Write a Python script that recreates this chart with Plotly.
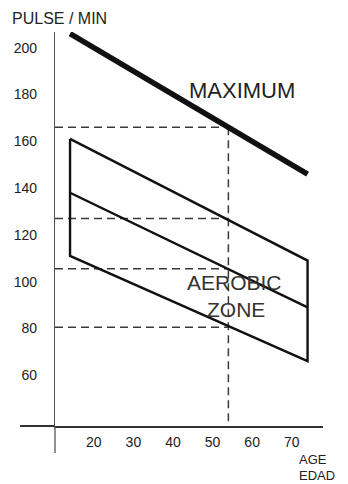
import plotly.graph_objects as go

# ---- data ----
ages = [14, 74]                 # ends of the plotted age span
max_pulse = [206, 146]          # MAXIMUM line
zone_upper = [161, 109]         # aerobic zone upper bound
zone_mid = [138, 89]            # middle line
zone_lower = [111, 66]          # aerobic zone lower bound
example_age = 54
example_pulses = [166, 127, 105.5, 80.5]
y_ticks = [60, 80, 100, 120, 140, 160, 180, 200]
x_ticks = [20, 30, 40, 50, 60, 70]

X_RANGE = [10.2, 77.9]
Y_RANGE = [38.3, 206.7]

FONT = "Liberation Sans, Arial, sans-serif"
INK = "#111111"
DASH_COL = "#3a3a3a"

fig = go.Figure()

# dashed guide lines
for p in example_pulses:
    fig.add_trace(go.Scatter(x=[X_RANGE[0], example_age], y=[p, p], mode="lines",
                             line=dict(color=DASH_COL, width=1.5, dash="8px,5px"),
                             hoverinfo="skip", showlegend=False))
fig.add_trace(go.Scatter(x=[example_age, example_age], y=[example_pulses[0], Y_RANGE[0]],
                         mode="lines", line=dict(color=DASH_COL, width=1.5, dash="8px,5px"),
                         hoverinfo="skip", showlegend=False))

# aerobic zone outline
fig.add_trace(go.Scatter(
    x=[ages[0], ages[1], ages[1], ages[0], ages[0]],
    y=[zone_upper[0], zone_upper[1], zone_lower[1], zone_lower[0], zone_upper[0]],
    mode="lines", line=dict(color=INK, width=2.4), showlegend=False, hoverinfo="skip"))
fig.add_trace(go.Scatter(x=ages, y=zone_mid, mode="lines",
                         line=dict(color=INK, width=2.4), showlegend=False, hoverinfo="skip"))
# maximum line
fig.add_trace(go.Scatter(x=ages, y=max_pulse, mode="lines",
                         line=dict(color=INK, width=5.5), showlegend=False, hoverinfo="skip"))

fig.update_layout(
    width=348, height=484,
    margin=dict(l=55, r=25, t=32, b=58),
    paper_bgcolor="white", plot_bgcolor="white",
    font=dict(family=FONT, color="#222222"),
    xaxis=dict(range=X_RANGE, tickvals=x_ticks, ticktext=[str(v) for v in x_ticks],
               showgrid=False, zeroline=False, showline=True, linecolor="#333333",
               linewidth=1.8, ticks="", ticklabelstandoff=2,
               tickfont=dict(size=14, family=FONT, color="#222222")),
    yaxis=dict(range=Y_RANGE, tickvals=y_ticks, ticktext=[str(v) for v in y_ticks],
               showgrid=False, zeroline=False, showline=True, linecolor="#555555",
               linewidth=1.3, ticks="", ticklabelstandoff=14,
               tickfont=dict(size=14, family=FONT, color="#222222")),
    shapes=[
        dict(type="line", xref="paper", yref="paper", x0=-35/268, x1=0, y0=0, y1=0,
             line=dict(color="#333333", width=1.8)),
        dict(type="line", xref="paper", yref="paper", x0=0, x1=0, y0=-27/394, y1=0,
             line=dict(color="#555555", width=1.3)),
    ],
    annotations=[
        dict(text="MAXIMUM", x=57.4, y=181.9, xref="x", yref="y", showarrow=False,
             font=dict(size=22, family=FONT, color="#222222")),
        dict(text="AEROBIC", x=55.5, y=99.5, xref="x", yref="y", showarrow=False,
             font=dict(size=21, family=FONT, color="#333333")),
        dict(text="ZONE", x=55.8, y=88.0, xref="x", yref="y", showarrow=False,
             font=dict(size=21, family=FONT, color="#333333")),
        dict(text="PULSE / MIN", x=-45/268, y=1 + 14/394, xref="paper", yref="paper",
             xanchor="left", yanchor="middle", showarrow=False,
             font=dict(size=16, family=FONT, color="#222222")),
        dict(text="AGE", x=1 - 25/268, y=-34/394, xref="paper", yref="paper",
             xanchor="left", yanchor="middle", showarrow=False, borderpad=0,
             font=dict(size=13, family=FONT, color="#222222")),
        dict(text="EDAD", x=1 - 25/268, y=-49.5/394, xref="paper", yref="paper",
             xanchor="left", yanchor="middle", showarrow=False, borderpad=0,
             font=dict(size=13, family=FONT, color="#222222")),
    ],
)

fig.write_html("out.html")
